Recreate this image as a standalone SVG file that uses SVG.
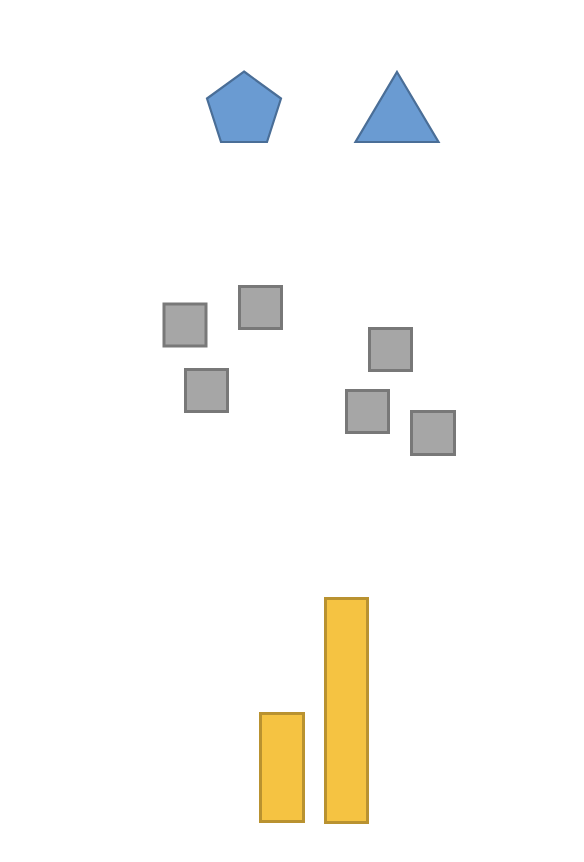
<svg xmlns="http://www.w3.org/2000/svg" width="584" height="862" viewBox="0 0 584 862">
<style>
.blue{fill:#6a9bd2;stroke:#4a6e97;stroke-width:2.2;stroke-linejoin:miter}
.gray{fill:#a6a6a6;stroke:#787878;stroke-width:3}
.gold{fill:#f5c342;stroke:#b99230;stroke-width:3}
</style>
<rect width="584" height="862" fill="#ffffff"/>
<g id="pentagon"><polygon class="blue" points="244,71.5 281,98.5 267,142 221,142 207,98.5"/></g>
<g id="triangle"><polygon class="blue" points="397,72 438.5,142 355.5,142"/></g>
<g id="sq1"><rect class="gray" x="164" y="304" width="42" height="42"/></g>
<g id="sq2"><rect class="gray" x="239.5" y="286.5" width="42" height="42"/></g>
<g id="sq3"><rect class="gray" x="185.5" y="369.5" width="42" height="42"/></g>
<g id="sq4"><rect class="gray" x="369.5" y="328.5" width="42" height="42"/></g>
<g id="sq5"><rect class="gray" x="346.5" y="390.5" width="42" height="42"/></g>
<g id="sq6"><rect class="gray" x="411.5" y="411.5" width="43" height="43"/></g>
<g id="bar1"><rect class="gold" x="260.5" y="713.5" width="43" height="108"/></g>
<g id="bar2"><rect class="gold" x="325.5" y="598.5" width="42" height="224"/></g>
<g id="connectors"></g>
</svg>
